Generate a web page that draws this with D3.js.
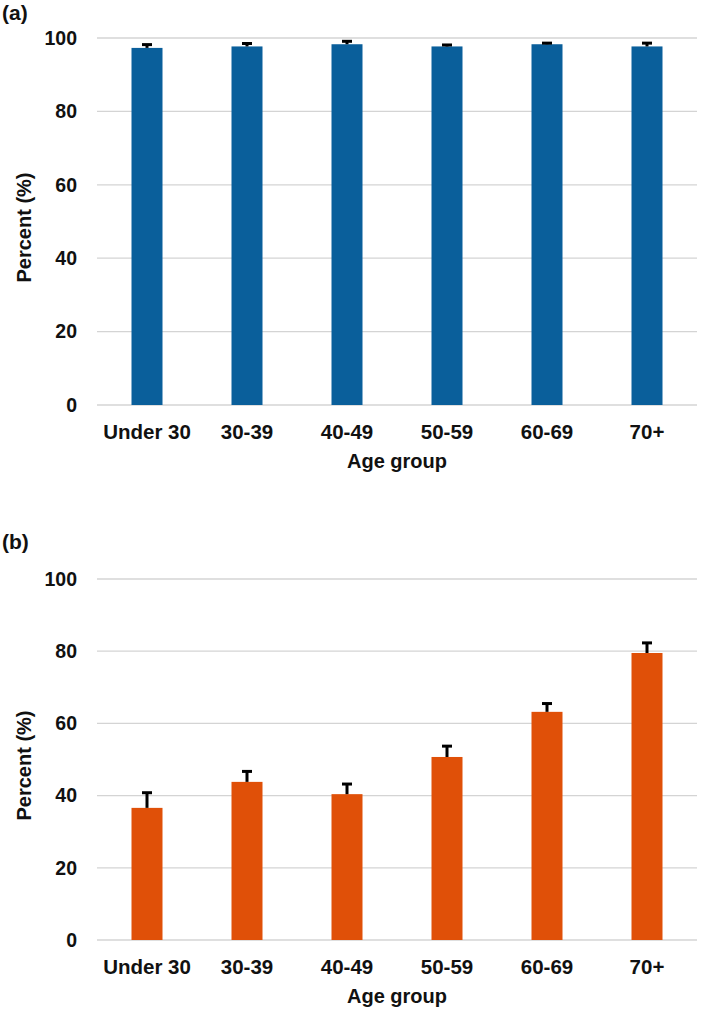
<!DOCTYPE html>
<html lang="en">
    <head>
        <meta charset="utf-8">
        <title>Age group bars</title>
        <script type="text/javascript" src="https://cdn.jsdelivr.net/npm/d3@7"></script>
        <style>
          body{
            margin:0;
            background:white;
          }
          .tick text{
            font-family:"Liberation Sans",Arial,sans-serif;
            font-weight:bold;
          }
          .xlab{
            font-family:"Liberation Sans",Arial,sans-serif;
            font-weight:bold;
          }
        </style>
    </head>
    <body>
      <div id="chart"></div>

        <script type="text/javascript">
          var groups = ["Under 30","30-39","40-49","50-59","60-69","70+"]
          var yTicks = [0,20,40,60,80,100]

          // panel (a)
          var valuesA = [97.3,97.7,98.3,97.7,98.3,97.7]
          var errorsA = [0.9,0.8,0.8,0.4,0.3,0.9]
          // panel (b)
          var valuesB = [36.6,43.8,40.4,50.7,63.2,79.5]
          var errorsB = [4.2,2.9,2.8,3.0,2.3,2.8]

          var svg = d3.select("#chart").append("svg").attr("width",709).attr("height",1016)

          drawPanel("(a)",valuesA,errorsA,"#0a5f9b",{top:38,bottom:405,label:20})
          drawPanel("(b)",valuesB,errorsB,"#e05008",{top:579,bottom:940,label:549})

          function drawPanel(name,values,errors,color,pos){
            var left = 97, right = 697
            var x = d3.scaleBand().domain(groups).range([left,right]).paddingInner(0.69).paddingOuter(0.345)
            var y = d3.scaleLinear().domain([0,100]).range([pos.bottom,pos.top])
            var g = svg.append("g")

            // gridlines
            g.selectAll(".grid")
            .data(yTicks)
            .enter()
            .append("line")
            .attr("x1",left)
            .attr("x2",right)
            .attr("y1",function(d){ return y(d) })
            .attr("y2",function(d){ return y(d) })
            .attr("stroke","#d4d4d4")
            .attr("stroke-width",1.3)

            // y axis tick labels
            var yAxis = g.append("g")
              .attr("transform","translate("+left+",0)")
              .call(d3.axisLeft(y).tickValues(yTicks).tickSize(0).tickPadding(20))
            yAxis.select(".domain").remove()
            yAxis.selectAll(".tick text")
              .attr("font-size",19.5)
              .attr("fill","#111")

            var data = groups.map(function(k,i){ return {k:k,v:values[i],e:errors[i]} })

            // bars
            g.selectAll(".bar")
            .data(data)
            .enter()
            .append("rect")
            .attr("x",function(d){ return x(d.k) })
            .attr("y",function(d){ return y(d.v) })
            .attr("width",x.bandwidth())
            .attr("height",function(d){ return y(0)-y(d.v) })
            .attr("fill",color)

            // error bars
            g.selectAll(".err")
            .data(data)
            .enter()
            .append("line")
            .attr("x1",function(d){ return x(d.k)+x.bandwidth()/2 })
            .attr("x2",function(d){ return x(d.k)+x.bandwidth()/2 })
            .attr("y1",function(d){ return y(d.v) })
            .attr("y2",function(d){ return y(d.v+d.e) })
            .attr("stroke","#000")
            .attr("stroke-width",3)

            g.selectAll(".cap")
            .data(data)
            .enter()
            .append("line")
            .attr("x1",function(d){ return x(d.k)+x.bandwidth()/2-5 })
            .attr("x2",function(d){ return x(d.k)+x.bandwidth()/2+5 })
            .attr("y1",function(d){ return y(d.v+d.e) })
            .attr("y2",function(d){ return y(d.v+d.e) })
            .attr("stroke","#000")
            .attr("stroke-width",3)

            // x labels
            g.selectAll(".xl")
            .data(groups)
            .enter()
            .append("text")
            .attr("class","xlab")
            .attr("x",function(d){ return x(d)+x.bandwidth()/2 })
            .attr("y",pos.bottom+34)
            .attr("text-anchor","middle")
            .attr("font-size",20.5)
            .attr("fill","#111")
            .text(function(d){ return d })

            g.append("text")
            .attr("class","xlab")
            .attr("x",(left+right)/2)
            .attr("y",pos.bottom+63)
            .attr("text-anchor","middle")
            .attr("font-size",20)
            .attr("fill","#111")
            .text("Age group")

            // y title
            g.append("text")
            .attr("transform","translate(31,"+((pos.top+pos.bottom)/2+6)+") rotate(-90)")
            .attr("text-anchor","middle")
            .attr("font-family","Liberation Sans, Arial, sans-serif")
            .attr("font-weight","bold")
            .attr("font-size",20)
            .attr("fill","#111")
            .text("Percent (%)")

            // panel label
            g.append("text")
            .attr("x",2)
            .attr("y",pos.label)
            .attr("font-family","Liberation Sans, Arial, sans-serif")
            .attr("font-weight","bold")
            .attr("font-size",21)
            .attr("fill","#111")
            .text(name)
          }
        </script>
    </body>
</html>
